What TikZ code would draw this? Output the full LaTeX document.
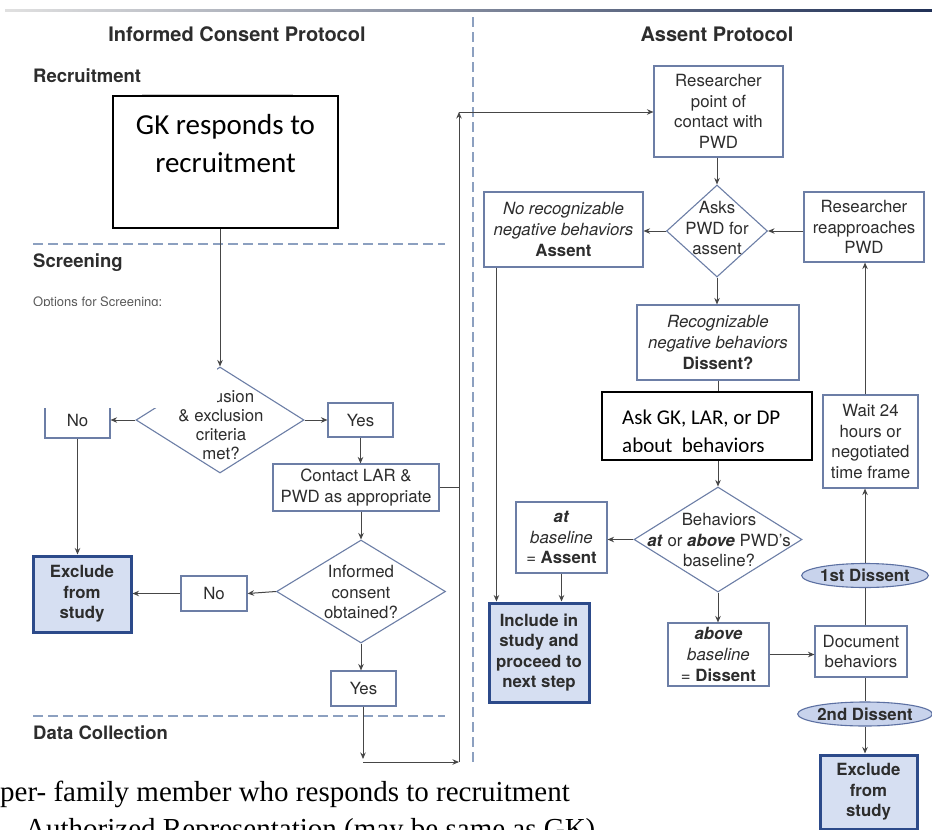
\documentclass[tikz,border=0pt]{standalone}
\usepackage{fontspec}
\setsansfont{TeX Gyre Heros}
\newfontfamily\calibriFont{Carlito}
\newfontfamily\timesFont{Liberation Serif}
\usetikzlibrary{shapes.geometric,arrows.meta}

\definecolor{boxBlue}{RGB}{108,126,166}
\definecolor{keyBlue}{RGB}{44,74,138}
\definecolor{keyFill}{RGB}{214,223,242}
\definecolor{tagFill}{RGB}{200,211,236}
\definecolor{tagEdge}{RGB}{92,112,162}
\definecolor{inkGray}{RGB}{45,45,45}
\definecolor{wireGray}{RGB}{70,70,70}
\definecolor{dashBlue}{RGB}{140,160,192}
\definecolor{rulerNavy}{RGB}{32,48,86}

\newcommand{\boxFont}{\sffamily\fontsize{16.8}{20.6}\selectfont}
\newcommand{\headFont}{\sffamily\bfseries\fontsize{20}{24}\selectfont}
\newcommand{\phaseFont}{\sffamily\bfseries\fontsize{18.5}{22}\selectfont}

\begin{document}
\begin{tikzpicture}[
        x=1pt, y=-1pt,
        >={Stealth[length=6.5pt,width=5.5pt]},
        every node/.style={font=\boxFont, text=inkGray},
        stepBox/.style={draw=boxBlue, line width=1.1pt, fill=white, align=center, inner sep=0pt},
        keyBox/.style={draw=keyBlue, line width=3pt, fill=keyFill, align=center, inner sep=0pt, font=\boxFont\bfseries},
        choice/.style={diamond, draw=boxBlue, line width=1.1pt, fill=white, inner sep=0pt},
        choiceText/.style={align=center, inner sep=0pt},
        dissentTag/.style={ellipse, draw=tagEdge, line width=1.1pt, fill=tagFill, inner sep=0pt, minimum width=112pt, minimum height=24pt, font=\boxFont\bfseries},
        flowArrow/.style={->, wireGray, line width=1pt},
        flowLine/.style={wireGray, line width=1pt},
        phaseRule/.style={dashBlue, line width=1.2pt, dash pattern=on 10pt off 5pt},
        noteBox/.style={draw=black, line width=1.5pt, fill=white, inner sep=0pt},
        phaseLabel/.style={anchor=west, font=\phaseFont, inner sep=0pt}
    ]
        \useasboundingbox (0,0) rectangle (932,830);

        % rules and headings
        \shade[left color=black!12, right color=rulerNavy] (5,9) rectangle (932,11.5);
        \draw[phaseRule] (473,17) -- (473,765);
        \draw[phaseRule] (33,244) -- (445,244);
        \draw[phaseRule] (33,716) -- (445,716);

        \node[font=\headFont] (icpHead) at (237,34) {Informed Consent Protocol};
        \node[font=\headFont] (apHead) at (717,34) {Assent Protocol};
        \node[phaseLabel] (recruitHead) at (33,76) {Recruitment};
        \node[phaseLabel] (screenHead) at (33,263) {Screening};
        \node[phaseLabel] (dataHead) at (33,733) {Data Collection};
        \node[anchor=base west, inner sep=0pt, font=\sffamily\fontsize{13}{15}\selectfont, text=black!65] (screenOpts) at (33,306.5) {Options for Screening:};

        % informed consent side
        \node[choice, minimum width=168pt, minimum height=106pt] (incl) at (220,420) {};
        \node[choiceText, font=\sffamily\fontsize{16.8}{19}\selectfont] (inclText) at (221,425) {Inclusion\\\& exclusion\\criteria\\met?};
        \node[stepBox, minimum width=65pt, minimum height=36pt] (noScreen) at (77.5,420) {No};
        \node[keyBox, minimum width=98pt, minimum height=76pt] (excludeA) at (82,594) {Exclude\\from\\study};
        \node[stepBox, minimum width=65pt, minimum height=34pt] (yesScreen) at (360.5,420) {Yes};
        \node[stepBox, minimum width=166pt, minimum height=47pt] (contact) at (356,487.5) {Contact LAR \&\\PWD as appropriate};
        \node[choice, minimum width=169pt, minimum height=103pt] (consent) at (361,591.5) {};
        \node[choiceText] (consentText) at (361,592) {Informed\\consent\\obtained?};
        \node[stepBox, minimum width=66pt, minimum height=35pt] (noConsent) at (214,593.5) {No};
        \node[stepBox, minimum width=65pt, minimum height=35pt] (yesConsent) at (363.5,688.5) {Yes};

        \coordinate (dataDrop) at (363,759);
        \coordinate (dataTurn) at (363,762);
        \coordinate (busFoot) at (459,762);
        \coordinate (busHead) at (459,112);

        % assent side
        \node[stepBox, minimum width=129pt, minimum height=91pt] (contactPWD) at (718.5,111.5) {Researcher\\point of\\contact with\\PWD};
        \node[choice, minimum width=101pt, minimum height=92pt] (asks) at (717,231) {};
        \node[choiceText] (asksText) at (717,228) {Asks\\PWD for\\assent};
        \node[stepBox, minimum width=159pt, minimum height=75pt] (noNeg) at (563.5,229.5) {\textit{No recognizable}\\\textit{negative behaviors}\\\textbf{Assent}};
        \node[stepBox, minimum width=120pt, minimum height=70pt] (reapproach) at (864,227) {Researcher\\reapproaches\\PWD};
        \node[stepBox, minimum width=162pt, minimum height=75pt] (negDissent) at (718,342.5) {\textit{Recognizable}\\\textit{negative behaviors}\\\textbf{Dissent?}};
        \node[choice, minimum width=168pt, minimum height=105pt] (baseCheck) at (718,539.5) {};
        \node[choiceText] (baseCheckText) at (719,540) {Behaviors\\\textbf{\textit{at}} or \textbf{\textit{above}} PWD’s\\baseline?};
        \node[stepBox, minimum width=91pt, minimum height=71pt] (atBase) at (561.5,537.5) {\textbf{\textit{at}}\\\textit{baseline}\\= \textbf{Assent}};
        \node[keyBox, minimum width=100pt, minimum height=99pt] (include) at (539,652.5) {Include in\\study and\\proceed to\\next step};
        \node[stepBox, minimum width=101pt, minimum height=63pt] (aboveBase) at (718.5,654.5) {\textbf{\textit{above}}\\\textit{baseline}\\= \textbf{Dissent}};
        \node[stepBox, minimum width=92pt, minimum height=51pt] (document) at (861,651.5) {Document\\behaviors};
        \node[stepBox, minimum width=95pt, minimum height=93pt] (wait) at (870.5,441.5) {Wait 24\\hours or\\negotiated\\time frame};
        \node[dissentTag] (firstDissent) at (865,575.5) {1st Dissent};
        \node[dissentTag] (secondDissent) at (865,714) {2nd Dissent};
        \node[keyBox, minimum width=97pt, minimum height=74pt] (excludeB) at (868.5,792) {Exclude\\from\\study};

        % pasted-over parts
        \fill[white] (0,306) rectangle (217,408);
        \draw[black!20, line width=2pt] (142,95) -- (293,95);
        \node[noteBox, minimum width=225pt, minimum height=132pt] (gk) at (225.5,162) {};
        \node[font=\calibriFont\fontsize{29}{38}\selectfont, text=black, align=center, inner sep=0pt] (gkText) at (225.5,144) {GK responds to\\recruitment};
        \node[noteBox, minimum width=210pt, minimum height=68pt] (askGK) at (707,426) {};
        \begin{scope}
            \clip (603,393) rectangle (811,451);
            \node[anchor=west, align=left, font=\calibriFont\fontsize{21}{28}\selectfont, text=black, inner sep=0pt] (askGKText) at (622,431) {Ask GK, LAR, or DP\\about\ \ behaviors};
        \end{scope}

        % connectors, consent side
        \draw[flowArrow] (incl.north |- gk.south) -- (incl.north);
        \draw[flowArrow] (incl.west) -- (noScreen.east);
        \draw[flowArrow] (noScreen.south) -- (noScreen.south |- excludeA.north);
        \draw[flowArrow] (incl.east) -- (yesScreen.west);
        \draw[flowArrow] (yesScreen.south) -- (yesScreen.south |- contact.north);
        \draw[flowArrow] (consent.north |- contact.south) -- (consent.north);
        \draw[flowArrow] (consent.west) -- (noConsent.east);
        \draw[flowArrow] (noConsent.west) -- (noConsent.west -| excludeA.east);
        \draw[flowArrow] (consent.south) -- (consent.south |- yesConsent.north);
        \draw[flowArrow] (yesConsent.south -| dataDrop) -- (dataDrop);
        \draw[flowArrow] (dataTurn) -- (busFoot);
        \draw[flowArrow] (busFoot) -- (busHead);
        \draw[flowArrow] (busHead) -- (busHead -| contactPWD.west);
        \draw[flowLine] (contact.east) -- (contact.east -| busFoot);

        % connectors, assent side
        \draw[flowArrow] (asks.north |- contactPWD.south) -- (asks.north);
        \draw[flowArrow] (asks.west) -- (asks.west -| noNeg.east);
        \draw[flowArrow] (asks.east -| reapproach.west) -- (asks.east);
        \draw[flowArrow] (asks.south) -- (asks.south |- negDissent.north);
        \draw[flowLine] (negDissent.south) -- (negDissent.south |- askGK.north);
        \draw[flowArrow] (baseCheck.north |- askGK.south) -- (baseCheck.north);
        \draw[flowArrow] (baseCheck.west) -- (baseCheck.west -| atBase.east);
        \draw[flowArrow] (baseCheck.south) -- (baseCheck.south |- aboveBase.north);
        \draw[flowArrow] (atBase.south) -- (atBase.south |- include.north);
        \draw[flowArrow] ([xshift=13pt]noNeg.south west) -- ([xshift=13pt]noNeg.south west |- include.north);
        \draw[flowArrow] (aboveBase.east) -- (aboveBase.east -| document.west);
        \draw[flowLine] (firstDissent.south |- document.north) -- (firstDissent.south);
        \draw[flowArrow] (firstDissent.north) -- (firstDissent.north |- wait.south);
        \draw[flowArrow] (firstDissent.north |- wait.north) -- (firstDissent.north |- reapproach.south);
        \draw[flowLine] (secondDissent.north |- document.south) -- (secondDissent.north);
        \draw[flowArrow] (secondDissent.south) -- (secondDissent.south |- excludeB.north);

        % note below the chart
        \node[anchor=base west, inner sep=0pt, font=\timesFont\fontsize{29}{33}\selectfont, text=black] (gkNote) at (0,801) {per- family member who responds to recruitment};
        \node[anchor=base west, inner sep=0pt, font=\timesFont\fontsize{29}{33}\selectfont, text=black] (larNote) at (25,838) {Authorized Representation (may be same as GK)};
\end{tikzpicture}
\end{document}
